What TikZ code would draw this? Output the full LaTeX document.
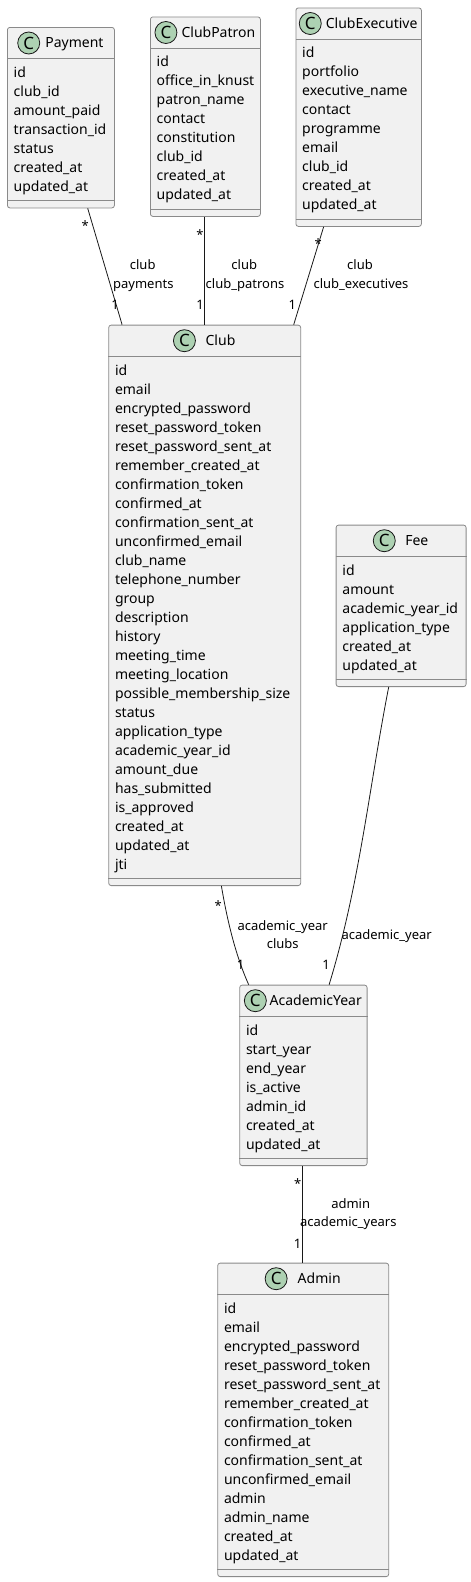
\documentclass[tikz,border=0pt]{standalone}
\usepackage{fontspec}
\setmainfont{Noto Sans}
\usetikzlibrary{positioning}
\definecolor{umlfill}{HTML}{F1F1F1}
\definecolor{umlline}{HTML}{181818}
\definecolor{umlbox}{HTML}{8A8A8A}
\definecolor{umlicon}{HTML}{ADD1B2}
\tikzset{
  classbox/.style={rectangle,draw=umlbox,fill=umlfill,line width=0.8pt,rounded corners=2.5pt,anchor=north west,inner sep=0pt},
  classline/.style={draw=umlbox,line width=0.8pt},
  classname/.style={inner sep=0pt,text height=11pt,text depth=2pt,font=\fontsize{14}{16}\selectfont},
  cicon/.style={circle,draw=umlline,fill=umlicon,line width=0.8pt,minimum size=22pt,inner sep=0pt,font=\fontsize{17}{18}\selectfont\bfseries},
  attr/.style={anchor=base west,inner sep=0pt,font=\fontsize{14}{16}\selectfont},
  assoc/.style={draw=umlline,line width=0.8pt},
  elabel/.style={inner sep=0pt,text height=9.5pt,text depth=2.5pt,font=\fontsize{13}{15}\selectfont},
}
% #1 name, #2 title, #3 x, #4 y, #5 width, #6 rows, #7 gap, #8 fields
\newcommand{\umlclass}[8]{%
  \node[classbox,minimum width=#5pt,minimum height={47.5pt+19pt*#6}] (#1) at (#3,#4) {};
  \draw[classline] ([yshift=-31.7pt]#1.north west) -- ([yshift=-31.7pt]#1.north east);
  \draw[classline] ([yshift=7.7pt]#1.south west) -- ([yshift=7.7pt]#1.south east);
  \node[classname] (#1-t) at ([xshift={(22pt+#7pt)/2},yshift=-16pt]#1.north) {#2};
  \node[cicon,left=#7pt of #1-t] (#1-c) {C};
  \foreach \a [count=\i] in {#8}
    \node[attr] (#1-\i) at ([xshift=6.5pt,yshift={-50.3pt-19pt*(\i-1)}]#1.north west) {\a};
}
\begin{document}
\begin{tikzpicture}[x=1pt,y=-1pt]
  \useasboundingbox (0,0) rectangle (471,1582);
  \umlclass{Payment}{Payment}{7}{27}{107}{7}{5}{id,club\_id,amount\_paid,transaction\_id,status,created\_at,updated\_at}
  \umlclass{ClubPatron}{ClubPatron}{150}{16.5}{110}{8}{4}{id,office\_in\_knust,patron\_name,contact,constitution,club\_id,created\_at,updated\_at}
  \umlclass{ClubExecutive}{ClubExecutive}{295.5}{7.5}{125.5}{9}{4}{id,portfolio,executive\_name,contact,programme,email,club\_id,created\_at,updated\_at}
  \umlclass{Club}{Club}{108.3}{324.7}{192}{27}{9.6}{id,email,encrypted\_password,reset\_password\_token,reset\_password\_sent\_at,remember\_created\_at,confirmation\_token,confirmed\_at,confirmation\_sent\_at,unconfirmed\_email,club\_name,telephone\_number,group,description,history,meeting\_time,meeting\_location,possible\_membership\_size,status,application\_type,academic\_year\_id,amount\_due,has\_submitted,is\_approved,created\_at,updated\_at,jti}
  \umlclass{Fee}{Fee}{335.7}{524.7}{130}{6}{9.4}{id,amount,academic\_year\_id,application\_type,created\_at,updated\_at}
  \umlclass{AcademicYear}{AcademicYear}{239.3}{984.7}{127.4}{7}{2.7}{id,start\_year,end\_year,is\_active,admin\_id,created\_at,updated\_at}
  \umlclass{Admin}{Admin}{217.3}{1262.7}{171}{14}{10}{id,email,encrypted\_password,reset\_password\_token,reset\_password\_sent\_at,remember\_created\_at,confirmation\_token,confirmed\_at,confirmation\_sent\_at,unconfirmed\_email,admin,admin\_name,created\_at,updated\_at}

  % associations
  \draw[assoc] ([xshift=26.8pt]Payment.south) -- ([xshift=-82.6pt]Club.north);
  \draw[assoc] ([xshift=-0.7pt]ClubPatron.south) -- (Club.north);
  \draw[assoc] ([xshift=-35pt]ClubExecutive.south) -- ([xshift=89pt]Club.north);
  \draw[assoc] ([xshift=16.7pt]Club.south) .. controls (227,919) and (235,954) .. ([xshift=-54.7pt]AcademicYear.north);
  \draw[assoc] ([xshift=-12.4pt]Fee.south) .. controls (369.3,786) and (359.7,884.7) .. ([xshift=25.7pt]AcademicYear.north);
  \draw[assoc] ([xshift=-0.7pt]AcademicYear.south) -- ([xshift=-0.5pt]Admin.north);

  % multiplicities
  \node[elabel] (mPayS) at (85.3,227) {*};
  \node[elabel] (mPayO) at (115,306) {1};
  \node[elabel] (mPatS) at (200,236) {*};
  \node[elabel] (mPatO) at (200,306) {1};
  \node[elabel] (mExeS) at (318.3,244.7) {*};
  \node[elabel] (mExeO) at (292.3,306) {1};
  \node[elabel] (mCluS) at (218.3,906.7) {*};
  \node[elabel] (mCluO) at (240.7,966.3) {1};
  \node[elabel] (mFeeO) at (326,966.3) {1};
  \node[elabel] (mAcaS) at (297.7,1184.7) {*};
  \node[elabel] (mAcaO) at (297.7,1245) {1};

  % role names
  \node[elabel] (lPayA) at (142.7,266) {club};
  \node[elabel] (lPayB) at (143.3,284.7) {payments};
  \node[elabel] (lPatA) at (244.3,266) {club};
  \node[elabel] (lPatB) at (245,284.7) {club\_patrons};
  \node[elabel] (lExeA) at (360,266) {club};
  \node[elabel] (lExeB) at (361,284.7) {club\_executives};
  \node[elabel] (lCluA) at (282.7,926.7) {academic\_year};
  \node[elabel] (lCluB) at (282.7,944.7) {clubs};
  \node[elabel] (lFeeA) at (386.7,935.7) {academic\_year};
  \node[elabel] (lAcaA) at (350.7,1204.7) {admin};
  \node[elabel] (lAcaB) at (348.3,1223) {academic\_years};
\end{tikzpicture}
\end{document}
